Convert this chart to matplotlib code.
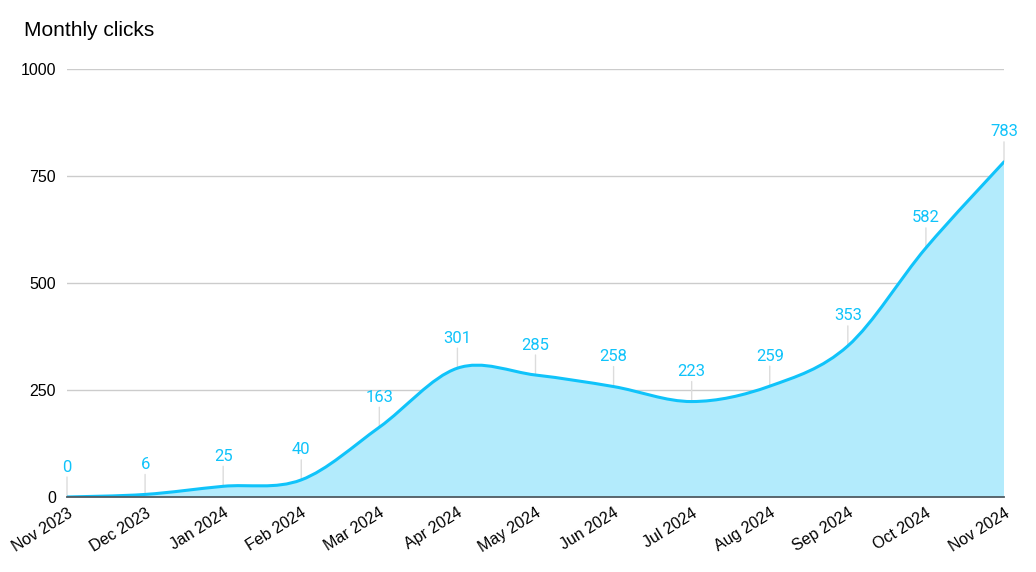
import matplotlib
matplotlib.use("Agg")
import matplotlib.pyplot as plt
import matplotlib.transforms as mtransforms
from matplotlib.path import Path
from matplotlib.patches import PathPatch

months = ["Nov 2023", "Dec 2023", "Jan 2024", "Feb 2024", "Mar 2024", "Apr 2024",
          "May 2024", "Jun 2024", "Jul 2024", "Aug 2024", "Sep 2024", "Oct 2024", "Nov 2024"]
clicks = [0, 6, 25, 40, 163, 301, 285, 258, 223, 259, 353, 582, 783]
y_ticks = [0, 250, 500, 750, 1000]

LINE = "#10c3fa"
FILL = "#b3ebfc"

fig = plt.figure(figsize=(10.36, 5.72), dpi=100)
W, H = 1036, 572
ax = fig.add_axes([67 / W, 75 / H, (1004 - 67) / W, (497 - 69) / H])

x = list(range(len(clicks)))
n = len(clicks)

# smooth curve through the points (Catmull-Rom as cubic Bezier segments)
verts = [(x[0], clicks[0])]
codes = [Path.MOVETO]
for i in range(n - 1):
    p0 = (x[max(i - 1, 0)], clicks[max(i - 1, 0)])
    p1 = (x[i], clicks[i])
    p2 = (x[i + 1], clicks[i + 1])
    p3 = (x[min(i + 2, n - 1)], clicks[min(i + 2, n - 1)])
    c1 = (p1[0] + (p2[0] - p0[0]) / 6, p1[1] + (p2[1] - p0[1]) / 6)
    c2 = (p2[0] - (p3[0] - p1[0]) / 6, p2[1] - (p3[1] - p1[1]) / 6)
    verts += [c1, c2, p2]
    codes += [Path.CURVE4] * 3

line_path = Path(verts, codes)
fill_path = Path(verts + [(x[-1], 0), (x[0], 0), (x[0], clicks[0])],
                 codes + [Path.LINETO, Path.LINETO, Path.CLOSEPOLY])

ax.add_patch(PathPatch(fill_path, facecolor=FILL, edgecolor="none", zorder=2))
ax.add_patch(PathPatch(line_path, facecolor="none", edgecolor=LINE, lw=2.2, zorder=4,
                       capstyle="round", joinstyle="round"))

for xi, v in zip(x, clicks):
    ax.annotate("", xy=(xi, v), xytext=(0, 20), textcoords="offset pixels",
                arrowprops=dict(arrowstyle="-", color="#dcdcdc", lw=1, shrinkA=0, shrinkB=0),
                zorder=3, annotation_clip=False)
    ax.annotate(str(v), xy=(xi, v), xytext=(0, 30), textcoords="offset pixels",
                ha="center", va="center", color=LINE, fontsize=12, family="Roboto",
                zorder=5, annotation_clip=False)

ax.set_xlim(0, n - 1)
ax.set_ylim(0, 1000)
ax.set_yticks(y_ticks)
ax.set_yticklabels([str(t) for t in y_ticks], fontsize=11.5, family="Liberation Sans")
ax.set_xticks(x)
ax.set_xticklabels(months, fontsize=11.5, family="Liberation Sans",
                   rotation=32, ha="right", va="top", rotation_mode="anchor")
offset = mtransforms.ScaledTranslation(8 / 100, 0, fig.dpi_scale_trans)
for lbl in ax.get_xticklabels():
    lbl.set_transform(lbl.get_transform() + offset)

ax.tick_params(axis="both", length=0)
ax.tick_params(axis="y", pad=8)
ax.tick_params(axis="x", pad=6)
for s in ["top", "right", "left"]:
    ax.spines[s].set_visible(False)
ax.spines["bottom"].set_color("#4f5b62")
ax.spines["bottom"].set_linewidth(1.3)
ax.spines["bottom"].set_zorder(6)
ax.yaxis.grid(True, color="#cccccc", lw=1)
ax.set_axisbelow(True)

fig.text(24 / W, 1 - 31 / H, "Monthly clicks", fontsize=15, family="Liberation Sans",
         ha="left", va="center")

fig.savefig("out.png", dpi=100)
